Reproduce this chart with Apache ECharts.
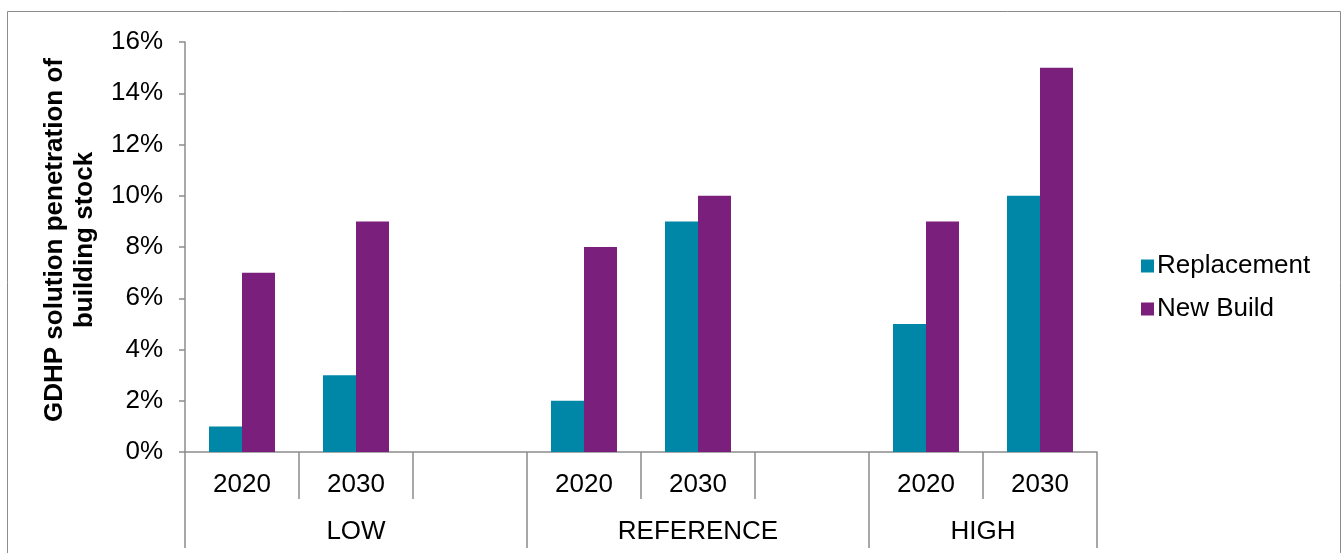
<!DOCTYPE html>
<html>
<head>
<meta charset="utf-8">
<script src="https://cdn.jsdelivr.net/npm/echarts@6/dist/echarts.min.js"></script>
<style>
  html, body { margin: 0; padding: 0; background: #fff; }
  #chart { width: 1343px; height: 553px; }
</style>
</head>
<body>
<div id="chart"></div>
<script>
// data (percent)
const categories = ['2020', '2030', '', '2020', '2030', '', '2020', '2030']
const replacement = [1, 3, null, 2, 9, null, 5, 10]
const newBuild = [7, 9, null, 8, 10, null, 9, 15]
const groupNames = ['LOW', 'REFERENCE', 'HIGH']
const groupSizes = [3, 3, 2]

// group boundaries and centres on the second-level axis
const groupEdges = [0]
groupSizes.forEach(n => groupEdges.push(groupEdges[groupEdges.length - 1] + n))
const groupCenters = groupSizes.map((n, i) => groupEdges[i] + n / 2)

const font = 'Liberation Sans, Arial, sans-serif'
const axisGrey = '#8c8c8c'
const fs = 26

const chart = echarts.init(document.getElementById('chart'))
const option = {
    animation: false,
    textStyle: { fontFamily: font },
    graphic: [{
        type: 'rect',
        shape: { x: 7.5, y: 11.5, width: 1333, height: 560 },
        style: { fill: 'none', stroke: axisGrey, lineWidth: 1 },
        silent: true
    }],
    grid: { left: 185, right: 246, top: 42, bottom: 101 },
    legend: {
        orient: 'vertical',
        left: 1136,
        top: 248,
        itemWidth: 13,
        itemHeight: 13,
        itemGap: 17,
        icon: 'rect',
        textStyle: { fontSize: fs, color: '#000', fontFamily: font, padding: [0, 0, 0, -2] },
        data: ['Replacement', 'New Build']
    },
    xAxis: [{
        type: 'category',
        data: categories,
        axisLine: { lineStyle: { color: axisGrey, width: 1.5 } },
        axisTick: { show: true, interval: 0, length: 47, lineStyle: { color: axisGrey, width: 1.5 } },
        axisLabel: { interval: 0, fontSize: fs, color: '#000', margin: 20 }
    }, {
        type: 'value',
        min: 0,
        max: categories.length,
        position: 'bottom',
        offset: 47,
        axisLine: { show: false },
        splitLine: { show: false },
        axisTick: {
            show: true,
            customValues: groupEdges,
            length: 49,
            lineStyle: { color: axisGrey, width: 1.5 }
        },
        axisLabel: {
            customValues: groupCenters,
            fontSize: fs,
            color: '#000',
            margin: 20,
            formatter: v => groupNames[groupCenters.indexOf(v)] || ''
        }
    }],
    yAxis: {
        type: 'value',
        min: 0,
        max: 16,
        interval: 2,
        name: 'GDHP solution penetration of\nbuilding stock',
        nameLocation: 'middle',
        nameRotate: 90,
        nameGap: 78,
        nameTextStyle: { fontSize: fs, fontWeight: 'bold', color: '#000', lineHeight: 30, padding: [0, 0, 0, 14] },
        axisLine: { show: true, lineStyle: { color: axisGrey, width: 1.5 } },
        axisTick: { show: true, length: 6, lineStyle: { color: axisGrey, width: 1.5 } },
        splitLine: { show: false },
        axisLabel: { fontSize: fs, color: '#000', margin: 22, formatter: '{value}%' }
    },
    series: [{
        name: 'Replacement',
        type: 'bar',
        data: replacement,
        barWidth: 33,
        barGap: '0%',
        itemStyle: { color: '#0087a8' }
    }, {
        name: 'New Build',
        type: 'bar',
        data: newBuild,
        barWidth: 33,
        itemStyle: { color: '#7b1f7c' }
    }]
}
chart.setOption(option)
</script>
</body>
</html>
